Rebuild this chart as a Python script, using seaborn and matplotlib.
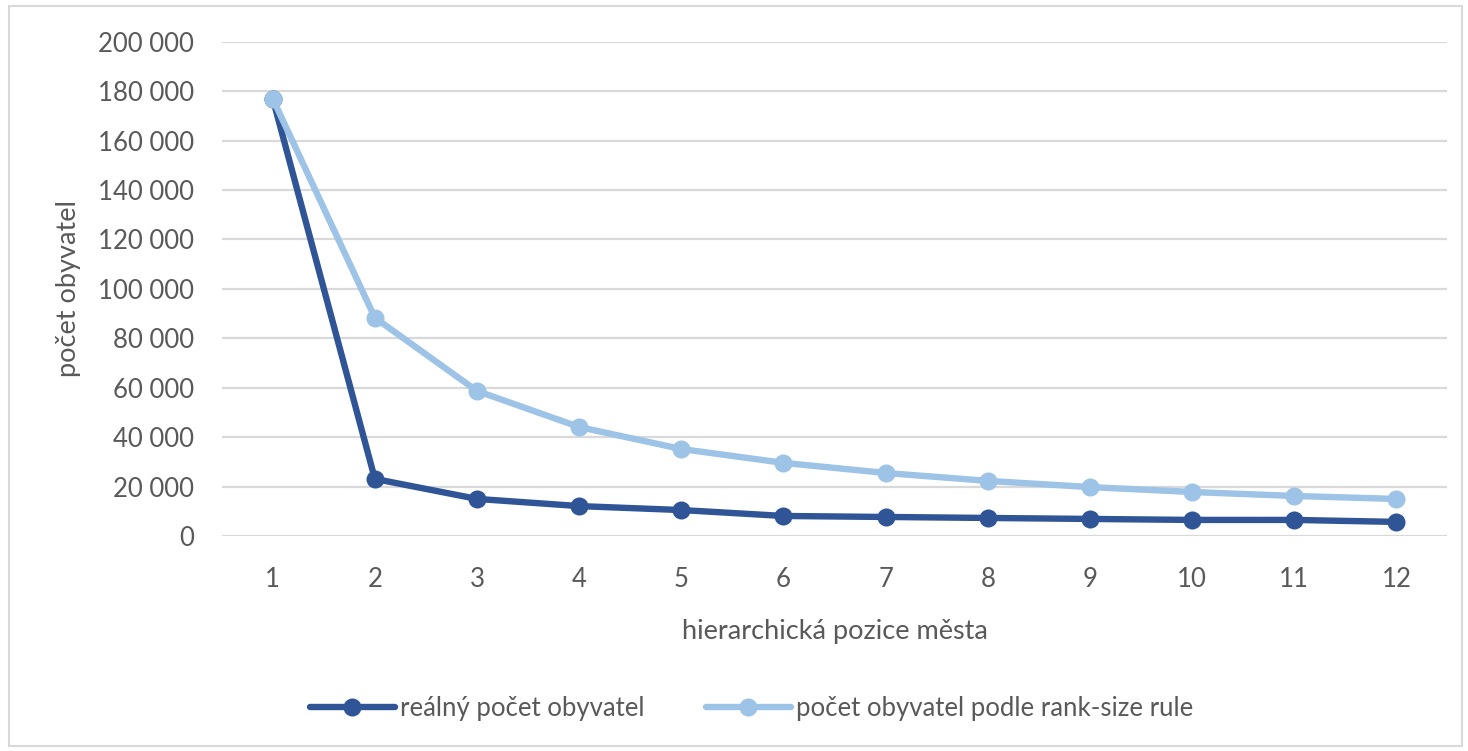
import matplotlib
matplotlib.use("Agg")
import matplotlib.pyplot as plt
from matplotlib.patches import Rectangle
from matplotlib.ticker import FuncFormatter
import seaborn as sns
import pandas as pd

# hierarchical rank of the town
rank = [1, 2, 3, 4, 5, 6, 7, 8, 9, 10, 11, 12]
# actual population
real_pop = [177000, 23100, 15000, 12100, 10500, 8100, 7700, 7300, 6900, 6500, 6500, 5700]
# population predicted by the rank-size rule
rank_size_pop = [177000, 88300, 58700, 44100, 35200, 29600, 25500, 22300, 19800, 17800, 16200, 15000]

label_real = "reálný počet obyvatel"
label_rule = "počet obyvatel podle rank-size rule"

sns.set_theme(style="white")
plt.rcParams["font.family"] = ["Lato", "DejaVu Sans"]

text_col = "#595959"
dark = "#2F5597"
light = "#9DC3E6"

df = pd.DataFrame({
    "rank": rank * 2,
    "pop": real_pop + rank_size_pop,
    "series": [label_real] * len(rank) + [label_rule] * len(rank),
})

fig = plt.figure(figsize=(14.68, 7.51), dpi=100)
ax = fig.add_axes([0.151, 0.2863, 0.835, 0.658])

sns.lineplot(data=df, x="rank", y="pop", hue="series",
             palette={label_real: dark, label_rule: light},
             hue_order=[label_real, label_rule],
             marker="o", markersize=13, markeredgewidth=0,
             linewidth=4.6, ax=ax, legend=False, zorder=3)

# draw light series above dark one where they meet at rank 1
for line in ax.get_lines():
    if matplotlib.colors.to_hex(line.get_color()).lower() == light.lower():
        line.set_zorder(4)

ax.set_xlim(0.5, 12.5)
ax.set_ylim(0, 200000)
ax.set_xticks(rank)
ax.set_yticks(range(0, 200001, 20000))
ax.yaxis.set_major_formatter(FuncFormatter(lambda v, p: f"{int(v):,}".replace(",", " ")))
ax.grid(axis="y", color="#d9d9d9", linewidth=1.6)
ax.grid(axis="x", visible=False)
for s in ax.spines.values():
    s.set_visible(False)
ax.tick_params(axis="both", length=0, labelsize=18.5, colors=text_col)
ax.tick_params(axis="y", pad=20)
ax.tick_params(axis="x", pad=22)

ax.set_xlabel("hierarchická pozice města", fontsize=19.5, color=text_col, labelpad=20)
ax.set_ylabel("počet obyvatel", fontsize=19.5, color=text_col, labelpad=12)

handles = [
    plt.Line2D([], [], color=dark, lw=4.6, marker="o", markersize=13, markeredgewidth=0),
    plt.Line2D([], [], color=light, lw=4.6, marker="o", markersize=13, markeredgewidth=0),
]
fig.legend(handles, [label_real, label_rule], loc="center", bbox_to_anchor=(0.512, 0.057),
           ncol=2, frameon=False, fontsize=18.5, labelcolor=text_col,
           handlelength=3.3, handletextpad=0.2, columnspacing=2.4)

fig.patches.append(Rectangle((0.006, 0.007), 0.99, 0.985, transform=fig.transFigure,
                             fill=False, edgecolor="#d9d9d9", linewidth=1.5))

fig.savefig("out.png", dpi=100, facecolor="white")
